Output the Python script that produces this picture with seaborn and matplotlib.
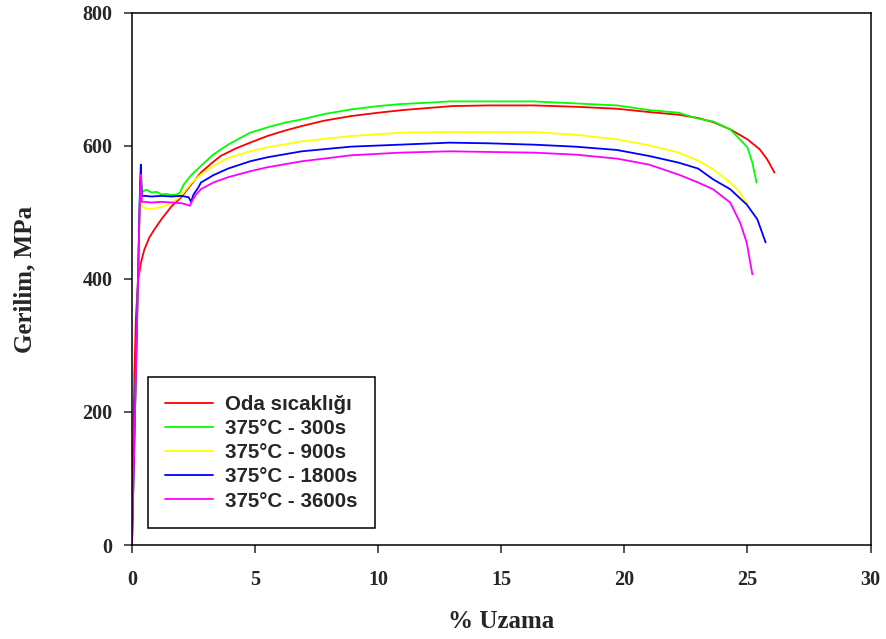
import pandas as pd
import numpy as np
import seaborn as sns
import matplotlib.pyplot as plt

# 1) DATA ─────────────────────────────────────────────────────────────────────
labels = ["Oda sıcaklığı", "375°C - 300s", "375°C - 900s",
          "375°C - 1800s", "375°C - 3600s"]
colors = ["#FF0000", "#00FF00", "#FFFF00", "#0000FF", "#FF00FF"]

x_red = [0, 0.05, 0.1, 0.16, 0.24, 0.36, 0.5, 0.7, 0.9, 1.2, 1.6, 2.0, 2.4,
         2.8, 3.2, 3.6, 4.2, 4.8, 5.5, 6.2, 6.9, 7.8, 8.9, 10.0, 11.0, 12.0,
         13.0, 14.5, 16.3, 18.0, 19.7, 21.0, 22.2, 23.0, 23.6, 24.3, 25.0,
         25.5, 25.8, 26.1]
y_red = [0, 150, 260, 343, 395, 424, 444, 462, 474, 490, 509, 523, 542,
         560, 573, 585, 596, 605, 615, 623, 630, 638, 645, 650, 654, 657,
         660, 661, 661, 659, 656, 651, 647, 642, 636, 625, 610,
         595, 580, 560]

x_green = [0, 0.33, 0.36, 0.4, 0.5, 0.6, 0.8, 1.0, 1.2, 1.4, 1.6, 1.8, 1.95,
           2.1, 2.4, 2.8, 3.3, 3.9, 4.8, 5.5, 6.2, 6.9, 7.8, 8.9, 10.0, 10.9,
           12.0, 12.9, 14.5, 16.3, 18.0, 19.7, 21.0, 22.2, 23.0, 23.6, 24.3,
           25.0, 25.2, 25.37]
y_green = [0, 540, 552, 530, 533, 534, 530, 531, 527, 528, 526, 527, 530,
           542, 556, 570, 587, 602, 620, 628, 635, 640, 648, 655, 660, 663,
           665, 667, 667, 667, 664, 661, 654, 650, 641, 637, 625,
           598, 575, 545]

x_yellow = [0, 0.33, 0.36, 0.4, 0.5, 0.7, 0.9, 1.1, 1.3, 1.5, 1.7, 1.9, 2.1,
            2.4, 2.8, 3.3, 3.9, 4.8, 5.5, 6.9, 8.9, 10.9, 12.9, 14.5, 16.3,
            18.0, 19.7, 21.0, 22.2, 23.0, 23.6, 24.3, 24.7, 25.0]
y_yellow = [0, 525, 532, 510, 507, 505, 506, 508, 509, 513, 517, 522, 530,
            544, 557, 570, 582, 592, 598, 607, 615, 620, 621, 621, 621,
            617, 610, 601, 590, 578, 565, 545, 530, 512]

x_blue = [0, 0.33, 0.36, 0.4, 0.5, 0.8, 1.2, 1.6, 2.0, 2.3, 2.4, 2.5, 2.7,
          2.8, 3.3, 3.9, 4.8, 5.5, 6.9, 8.9, 10.9, 12.9, 14.5, 16.3, 18.0,
          19.7, 21.0, 22.2, 23.0, 23.6, 24.3, 24.97, 25.4, 25.74]
y_blue = [0, 545, 572, 525, 525, 524, 525, 524, 525, 523, 516, 527, 538,
          545, 556, 566, 577, 583, 592, 599, 602, 605, 604, 602, 599,
          594, 585, 575, 566, 550, 535, 512, 490, 455]

x_mag = [0, 0.33, 0.36, 0.4, 0.5, 0.8, 1.2, 1.6, 2.0, 2.2, 2.35, 2.45, 2.6,
         2.8, 3.3, 3.9, 4.8, 5.5, 6.9, 8.9, 10.9, 12.9, 14.5, 16.3, 18.0,
         19.7, 21.0, 22.2, 23.0, 23.6, 24.3, 24.7, 24.97, 25.2]
y_mag = [0, 535, 557, 516, 516, 515, 516, 515, 514, 512, 510, 518, 527,
         535, 545, 553, 562, 568, 577, 586, 590, 592, 591, 590, 587,
         581, 572, 557, 545, 535, 515, 485, 455, 407]

xs = [x_red, x_green, x_yellow, x_blue, x_mag]
ys = [y_red, y_green, y_yellow, y_blue, y_mag]

df = pd.concat([pd.DataFrame({"uzama": x, "gerilim": y, "seri": lab})
                for x, y, lab in zip(xs, ys, labels)], ignore_index=True)

# 2) STYLE ────────────────────────────────────────────────────────────────────
sns.set_style("ticks")
plt.rcParams["font.family"] = ["Liberation Serif", "DejaVu Serif"]
plt.rcParams["font.weight"] = "bold"

fig = plt.figure(figsize=(8.87, 6.39), dpi=100)
ax = fig.add_axes([0.1488, 0.1471, 0.8326, 0.8326])

# 3) PLOT ─────────────────────────────────────────────────────────────────────
sns.lineplot(data=df, x="uzama", y="gerilim", hue="seri", hue_order=labels,
             palette=colors, sort=False, estimator=None, linewidth=1.3, ax=ax)

ax.set_xlim(0, 30)
ax.set_ylim(0, 800)
ax.set_xticks(np.arange(0, 31, 5))
ax.set_yticks(np.arange(0, 801, 200))
ax.tick_params(direction="out", length=6, width=1.1, labelsize=14.5)
ax.tick_params(axis="x", pad=12)
ax.tick_params(axis="y", pad=8)
for s in ax.spines.values():
    s.set_linewidth(1.1)
    s.set_color("black")

ax.set_xlabel("% Uzama", fontsize=18, fontweight="bold")
ax.set_ylabel("Gerilim, MPa", fontsize=18, fontweight="bold")
ax.xaxis.set_label_coords(0.5, -0.122)
ax.yaxis.set_label_coords(-0.13, 0.5)

leg = ax.legend(loc="lower left", bbox_to_anchor=(0.0217, 0.032),
                borderaxespad=0, fancybox=False, edgecolor="black",
                framealpha=1, handlelength=2.3, handletextpad=0.6,
                labelspacing=0.25, borderpad=0.85,
                prop={"family": ["Liberation Sans", "DejaVu Sans"],
                      "weight": "bold", "size": 14.8})
leg.get_frame().set_linewidth(1.1)

fig.savefig("out.png", dpi=100)
